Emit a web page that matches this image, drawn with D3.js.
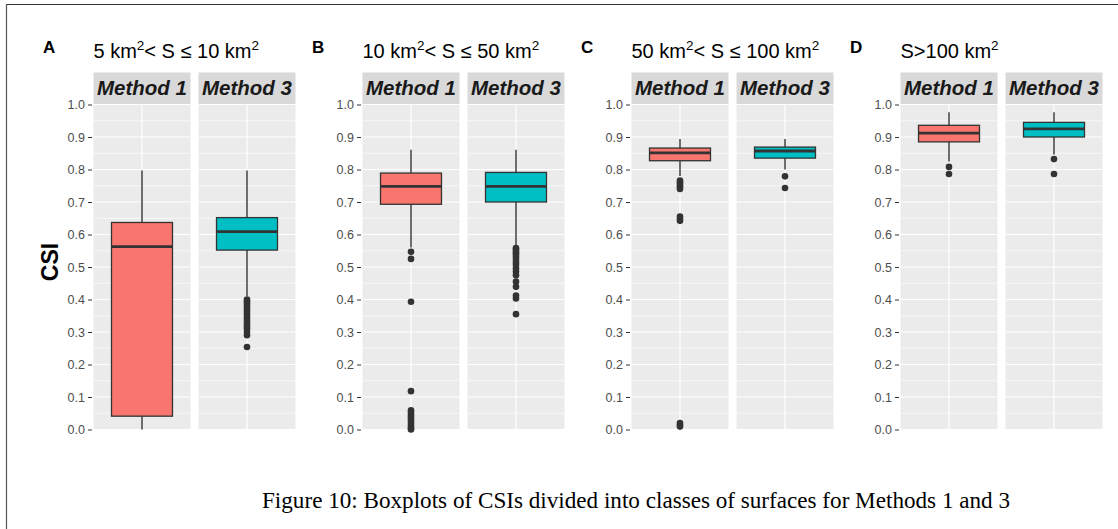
<!DOCTYPE html>
<html>
<head>
<meta charset="utf-8">
<script src="https://cdn.jsdelivr.net/npm/d3@7"></script>
<style>
  body { margin: 0; background: #fff; }
  svg { display: block; }
</style>
</head>
<body>
<div class="chart"></div>
<script>
// panel letters, surface classes and methods
const classes = ['A', 'B', 'C', 'D'];
const classTitles = [
  ['5 km', '2', '< S \u2264 10 km', '2'],
  ['10 km', '2', '< S \u2264 50 km', '2'],
  ['50 km', '2', '< S \u2264 100 km', '2'],
  ['S>100 km', '2']
];
const methods = ['Method 1', 'Method 3'];

// box statistics per class, [Method 1, Method 3]
const whiskerLow = [[0.0, 0.41], [0.56, 0.565], [0.78, 0.80], [0.825, 0.846]];
const q1 = [[0.041, 0.552], [0.693, 0.700], [0.827, 0.835], [0.885, 0.900]];
const median = [[0.563, 0.609], [0.748, 0.748], [0.851, 0.857], [0.912, 0.925]];
const q3 = [[0.637, 0.652], [0.789, 0.791], [0.866, 0.869], [0.936, 0.945]];
const whiskerHigh = [[0.797, 0.797], [0.861, 0.861], [0.894, 0.894], [0.976, 0.976]];
const outliers = [
  [[], [0.400, 0.394, 0.388, 0.380, 0.372, 0.365, 0.357, 0.350, 0.342, 0.334, 0.326, 0.318, 0.311, 0.300, 0.290, 0.254]],
  [[0.547, 0.525, 0.393, 0.118, 0.059, 0.052, 0.045, 0.038, 0.031, 0.024, 0.017, 0.010, 0.004, 0.0],
   [0.558, 0.552, 0.547, 0.542, 0.537, 0.530, 0.522, 0.514, 0.506, 0.496, 0.486, 0.475, 0.455, 0.439, 0.412, 0.403, 0.355]],
  [[0.766, 0.761, 0.756, 0.750, 0.746, 0.740, 0.655, 0.648, 0.642, 0.020, 0.014, 0.009], [0.779, 0.743]],
  [[0.808, 0.786], [0.832, 0.786]]
];

const yTicks = d3.range(0, 1.0001, 0.1);
const yMinor = d3.range(0.05, 1, 0.1);

const colors = ['#F8766D', '#00BFC4'];

const w = 1118;
const h = 529;
const panelTop = 104.5;
const panelBottom = 429.5;
const stripH = 32;
const firstLeft = 93.5;
const panelStep = 269;
const facetSpan = 202;

const svg = d3.select('.chart')
  .append('svg')
  .attr('width', w)
  .attr('height', h)
  .style('font-family', '"Liberation Sans", Arial, sans-serif');

// frame lines of the figure
svg.append('line').attr('x1', 6).attr('x2', w).attr('y1', 4.5).attr('y2', 4.5)
  .attr('stroke', '#333').attr('stroke-width', 1.2);
svg.append('line').attr('x1', 6.5).attr('x2', 6.5).attr('y1', 4).attr('y2', h)
  .attr('stroke', '#555').attr('stroke-width', 1.2);

const y = d3.scaleLinear().domain([0, 1]).range([panelBottom, panelTop]);

const facetX = d3.scaleBand().domain(methods).range([0, facetSpan]).paddingInner(0.0762);
const boxX = d3.scaleBand().domain(['box']).range([0, facetX.bandwidth()]).padding(0.228);

classes.forEach((cls, ci) => {
  const left = firstLeft + ci * panelStep;
  const g = svg.append('g').attr('transform', `translate(${left},0)`);

  // panel letter and class title
  svg.append('text')
    .attr('x', left - 50.5)
    .attr('y', 53)
    .attr('font-weight', 'bold')
    .attr('font-size', 17)
    .attr('fill', '#000')
    .text(cls);

  const title = svg.append('text')
    .attr('x', left)
    .attr('y', 58)
    .attr('font-size', 20)
    .attr('fill', '#000');
  classTitles[ci].forEach((part, pi) => {
    const sup = pi % 2 === 1;
    title.append('tspan')
      .attr('dy', sup ? -8 : (pi > 0 ? 8 : 0))
      .attr('font-size', sup ? 13.5 : 20)
      .text(part);
  });

  // y axis
  const yAxis = d3.axisLeft(y).tickValues(yTicks).tickFormat(d3.format('.1f')).tickSize(4).tickPadding(3);
  const ax = g.append('g')
    .attr('transform', 'translate(-1.5,0)')
    .call(yAxis);
  ax.select('.domain').remove();
  ax.selectAll('.tick line').attr('stroke', '#333').attr('stroke-width', 1);
  ax.selectAll('.tick text')
    .attr('fill', '#4D4D4D')
    .attr('font-size', 12.5)
    .style('font-family', '"Liberation Sans", Arial, sans-serif');

  methods.forEach((m, mi) => {
    const fx = facetX(m);
    const fw = facetX.bandwidth();
    const f = g.append('g').attr('transform', `translate(${fx},0)`);

    // strip
    f.append('rect')
      .attr('x', 0).attr('y', panelTop - stripH)
      .attr('width', fw).attr('height', stripH)
      .attr('fill', '#D9D9D9');
    f.append('text')
      .attr('x', fw / 2)
      .attr('y', panelTop - 9.5)
      .attr('text-anchor', 'middle')
      .attr('font-weight', 'bold')
      .attr('font-style', 'italic')
      .attr('font-size', 20.5)
      .attr('fill', '#1A1A1A')
      .text(m);

    // panel background and grid
    f.append('rect')
      .attr('x', 0).attr('y', panelTop)
      .attr('width', fw).attr('height', panelBottom - panelTop)
      .attr('fill', '#EBEBEB');
    f.selectAll('.minor')
      .data(yMinor)
      .enter()
      .append('line')
      .attr('x1', 0).attr('x2', fw)
      .attr('y1', (d) => y(d)).attr('y2', (d) => y(d))
      .attr('stroke', '#fff').attr('stroke-width', 0.6);
    f.selectAll('.major')
      .data(yTicks)
      .enter()
      .append('line')
      .attr('x1', 0).attr('x2', fw)
      .attr('y1', (d) => y(d)).attr('y2', (d) => y(d))
      .attr('stroke', '#fff').attr('stroke-width', 1.2);

    const cx = boxX('box') + boxX.bandwidth() / 2;
    f.append('line')
      .attr('x1', cx).attr('x2', cx)
      .attr('y1', panelTop).attr('y2', panelBottom)
      .attr('stroke', '#fff').attr('stroke-width', 1.2);

    // whiskers
    f.append('line')
      .attr('x1', cx).attr('x2', cx)
      .attr('y1', y(whiskerHigh[ci][mi])).attr('y2', y(q3[ci][mi]))
      .attr('stroke', '#333').attr('stroke-width', 1.4);
    f.append('line')
      .attr('x1', cx).attr('x2', cx)
      .attr('y1', y(q1[ci][mi])).attr('y2', y(whiskerLow[ci][mi]))
      .attr('stroke', '#333').attr('stroke-width', 1.4);

    // box
    f.append('rect')
      .attr('x', boxX('box'))
      .attr('y', y(q3[ci][mi]))
      .attr('width', boxX.bandwidth())
      .attr('height', y(q1[ci][mi]) - y(q3[ci][mi]))
      .attr('fill', colors[mi])
      .attr('stroke', '#333')
      .attr('stroke-width', 1.3);
    f.append('line')
      .attr('x1', boxX('box')).attr('x2', boxX('box') + boxX.bandwidth())
      .attr('y1', y(median[ci][mi])).attr('y2', y(median[ci][mi]))
      .attr('stroke', '#333').attr('stroke-width', 2.8);

    // outliers
    f.selectAll('circle')
      .data(outliers[ci][mi])
      .enter()
      .append('circle')
      .attr('cx', cx)
      .attr('cy', (d) => y(d))
      .attr('r', 3.3)
      .attr('fill', '#333');
  });
});

// y axis title
svg.append('text')
  .attr('transform', 'translate(58,262) rotate(-90)')
  .attr('text-anchor', 'middle')
  .attr('font-weight', 'bold')
  .attr('font-size', 23)
  .attr('fill', '#000')
  .text('CSI');

// caption
svg.append('text')
  .attr('x', 636)
  .attr('y', 508)
  .attr('text-anchor', 'middle')
  .attr('textLength', 748)
  .attr('lengthAdjust', 'spacingAndGlyphs')
  .style('font-family', '"Liberation Serif", "Times New Roman", serif')
  .attr('font-size', 22.5)
  .attr('fill', '#000')
  .text('Figure 10: Boxplots of CSIs divided into classes of surfaces for Methods 1 and 3');
</script>
</body>
</html>
